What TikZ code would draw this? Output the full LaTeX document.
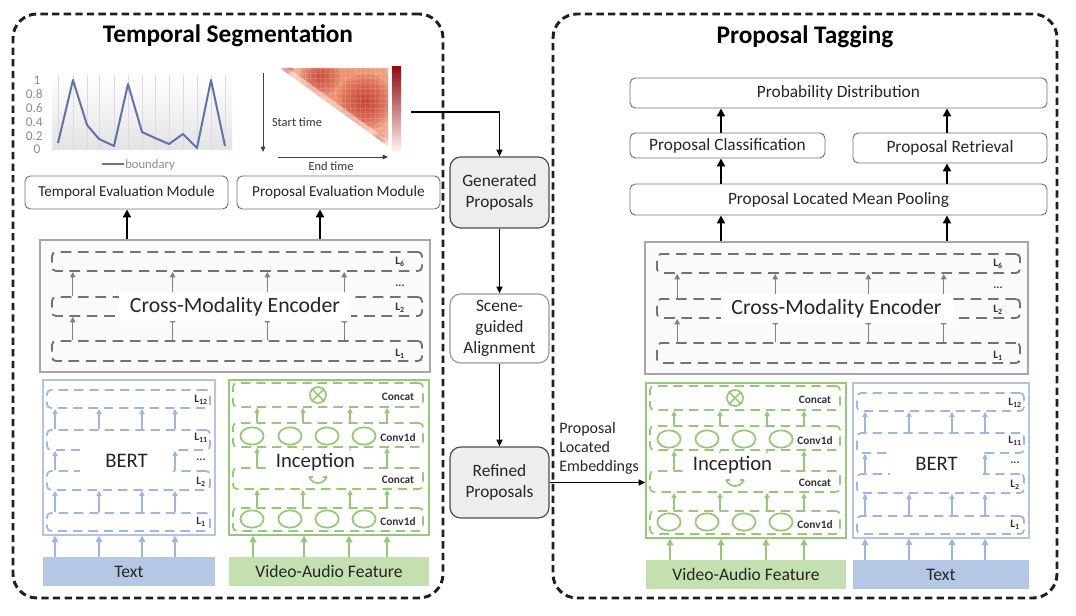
\documentclass[tikz,border=0pt]{standalone}
\usepackage{fontspec}
\setmainfont{Carlito}
\usetikzlibrary{arrows.meta,fit,calc}
\definecolor{bluel}{RGB}{160,182,222}
\definecolor{bluefill}{RGB}{182,199,230}
\definecolor{greenl}{RGB}{150,200,120}
\definecolor{greenfill}{RGB}{196,224,176}
\definecolor{chartblue}{RGB}{95,115,172}
\definecolor{hmbase}{RGB}{250,210,180}
\definecolor{hmmid}{RGB}{232,105,70}
\definecolor{hmdark}{RGB}{180,25,20}
\definecolor{cbtop}{RGB}{150,10,20}
\definecolor{cbmid}{RGB}{238,110,75}
\definecolor{cbbot}{RGB}{255,246,238}
\definecolor{txt}{RGB}{38,38,38}

% box node: style, name, x1, y1, x2, y2, text
\newcommand\boxnode[7]{%
 \node[#1, minimum width={((#5)-(#3))*0.75pt}, minimum height={((#6)-(#4))*0.75pt}] (#2) at ({((#3)+(#5))/2},{((#4)+(#6))/2}) {#7};}

\newcommand\mkenc[4]{%
 \node[encframe, fit={(#2,#3)(#2+#4,#3+132)}] (#1f) {};
 \node[encrow, fit={(#2+12,#3+12)(#2+#4-8,#3+31)}] (#1r3) {};
 \node[encrow, fit={(#2+12,#3+57)(#2+#4-8,#3+76)}] (#1r2) {};
 \node[encrow, fit={(#2+12,#3+101)(#2+#4-8,#3+121)}] (#1r1) {};
 \foreach \f in {0.084,0.34,0.583,0.78}{
  \coordinate (#1x) at (#2+#4*\f,0);
  \draw[garr] (#1r1.north -| #1x) -- (#1r2.south -| #1x);
  \draw[garr] (#1r2.north -| #1x) -- (#1r3.south -| #1x);
 }
 \node[cover, minimum width=174pt, minimum height=22pt, font=\fontsize{16.3}{18}\selectfont] (#1n) at (#2+#4/2,#3+66.5) {Cross-Modality Encoder};
 \node[lbl] at (#2+#4-30,#3+22) {L\textsubscript{6}};
 \node[lbl] at (#2+#4-30,#3+46) {...};
 \node[lbl] at (#2+#4-30,#3+68) {L\textsubscript{2}};
 \node[lbl] at (#2+#4-30,#3+114) {L\textsubscript{1}};
}

\newcommand\mkbert[4]{%
 \node[bframe, fit={(#2,#3)(#2+#4,#3+155)}] (#1f) {};
 \node[brow, fit={(#2+4,#3+10)(#2+#4-5,#3+28)}] (#1r4) {};
 \node[brow, fit={(#2+4,#3+50)(#2+#4-5,#3+70)}] (#1r3) {};
 \node[brow, fit={(#2+4,#3+91)(#2+#4-5,#3+110)}] (#1r2) {};
 \node[brow, fit={(#2+4,#3+133)(#2+#4-5,#3+151)}] (#1r1) {};
 \boxnode{bbox}{#1t}{#2}{#3+177}{#2+#4}{#3+206}{Text}
 \foreach \d in {12,56,99,132}{
  \coordinate (#1x) at (#2+\d,0);
  \draw[bbarr] (#1t.north -| #1x) -- (#1f.south -| #1x);
  \draw[barr] (#1r1.north -| #1x) -- (#1r2.south -| #1x);
  \draw[barr] (#1r2.north -| #1x) -- (#1r3.south -| #1x);
  \draw[barr] (#1r3.north -| #1x) -- (#1r4.south -| #1x);
 }
 \boxnode{cover, font=\fontsize{15.5}{17}\selectfont}{#1n}{#2+37}{#3+65}{#2+130}{#3+97}{BERT}
 \node[lbl] at (#2+#4-14,#3+20) {L\textsubscript{12}};
 \node[lbl] at (#2+#4-14,#3+58) {L\textsubscript{11}};
 \node[lbl] at (#2+#4-14,#3+80) {...};
 \node[lbl] at (#2+#4-14,#3+102) {L\textsubscript{2}};
 \node[lbl] at (#2+#4-14,#3+142) {L\textsubscript{1}};
}

\newcommand\mkincep[3]{%
 \node[gframe, fit={(#2,#3)(#2+200,#3+155)}] (#1f) {};
 \node[grnrow, fit={(#2+4,#3+3)(#2+194,#3+27)}] (#1r4) {};
 \node[grnrow, fit={(#2+4,#3+43)(#2+194,#3+67)}] (#1r3) {};
 \node[grnrow, fit={(#2+4,#3+88)(#2+194,#3+109)}] (#1r2) {};
 \node[grnrow, fit={(#2+4,#3+128)(#2+194,#3+151)}] (#1r1) {};
 \boxnode{gbox}{#1t}{#2}{#3+177}{#2+200}{#3+206}{Video-Audio Feature}
 \foreach \d/\e in {28/24,74/75,121/120,158/158}{
  \coordinate (#1x) at (#2+\d,0);
  \coordinate (#1y) at (#2+\e,0);
  \draw[ggarr] (#1t.north -| #1y) -- (#1f.south -| #1y);
  \draw[grarr] (#1r1.north -| #1x) -- (#1r2.south -| #1x);
  \draw[grarr] (#1r2.north -| #1x) -- (#1r3.south -| #1x);
  \draw[grarr] (#1r3.north -| #1x) -- (#1r4.south -| #1x);
 }
 \foreach \d in {23,61,98,135}{
  \draw[gline, fill=white] (#2+\d,#3+56) ellipse [x radius=8.7pt, y radius=6.5pt];
  \draw[gline, fill=white] (#2+\d,#3+139) ellipse [x radius=8.7pt, y radius=6.5pt];
 }
 \node[draw=greenl, line width=1.3pt, circle, minimum size=12pt, inner sep=0pt, fill=white] (#1o) at (#2+89,#3+15) {};
 \draw[gline] (#1o.north west) -- (#1o.south east) (#1o.north east) -- (#1o.south west);
 \draw[gline] (#2+80,#3+97) .. controls (#2+84,#3+105) and (#2+94,#3+105) .. (#2+98,#3+97);
 \draw[gline] (#2+80,#3+97) -- (#2+84,#3+97) (#2+98,#3+97) -- (#2+94,#3+97);
 \boxnode{cover, font=\fontsize{15.5}{17}\selectfont}{#1n}{#2+39}{#3+70}{#2+134}{#3+95}{Inception}
 \node[lbl] at (#2+169,#3+17) {Concat};
 \node[lbl] at (#2+169,#3+58) {Conv1d};
 \node[lbl] at (#2+169,#3+100) {Concat};
 \node[lbl] at (#2+169,#3+142) {Conv1d};
}

\begin{document}
\begin{tikzpicture}[x=0.75pt,y=-0.75pt,
 bigframe/.style={draw=black!88, line width=2.2pt, dash pattern=on 5.5pt off 3.2pt, rounded corners=18pt, inner sep=0pt},
 ttl/.style={font=\bfseries\fontsize{19}{21}\selectfont, text=black},
 mod/.style={draw=black!55, line width=0.7pt, rounded corners=4pt, fill=white, inner sep=0pt, font=\fontsize{11.4}{13}\selectfont, text=txt},
 rmod/.style={mod, font=\fontsize{13}{15}\selectfont},
 mid/.style={draw=black!70, line width=0.9pt, rounded corners=8pt, fill=black!7, inner sep=0pt, align=center, font=\fontsize{13}{15.5}\selectfont, text=txt},
 bigarr/.style={line width=1.8pt, -{Triangle[length=6pt,width=6pt]}},
 arr/.style={line width=1pt, -{Triangle[length=5pt,width=4.5pt]}},
 encframe/.style={draw=black!35, line width=1pt, fill=black!2, inner sep=0pt},
 encrow/.style={draw=black!55, line width=1.4pt, dash pattern=on 8pt off 5pt, rounded corners=3pt, inner sep=0pt},
 garr/.style={draw=black!50, line width=1pt, -{Triangle[length=4pt,width=4pt]}},
 bframe/.style={draw=bluel!80, line width=0.8pt, inner sep=0pt, fill=white},
 brow/.style={draw=bluel, line width=1.3pt, dash pattern=on 7pt off 4.5pt, rounded corners=3pt, inner sep=0pt},
 barr/.style={draw=bluel, line width=1.2pt, -{Triangle[length=4pt,width=4pt]}},
 bbarr/.style={draw=bluel, line width=1.6pt, -{Triangle[length=5pt,width=5pt]}},
 bbox/.style={fill=bluefill, inner sep=0pt, font=\fontsize{13.2}{15}\selectfont, text=txt},
 gframe/.style={draw=greenl, line width=1pt, inner sep=0pt, fill=white},
 grnrow/.style={draw=greenl, line width=1.3pt, dash pattern=on 7pt off 4.5pt, rounded corners=3pt, inner sep=0pt},
 grarr/.style={draw=greenl, line width=1.2pt, -{Triangle[length=4pt,width=4pt]}},
 ggarr/.style={draw=greenl, line width=1.6pt, -{Triangle[length=5pt,width=5pt]}},
 gline/.style={draw=greenl, line width=1.3pt},
 gbox/.style={fill=greenfill, inner sep=0pt, font=\fontsize{13.2}{15}\selectfont, text=txt},
 cover/.style={fill=white, inner sep=0pt, text=txt},
 lbl/.style={font=\bfseries\fontsize{8.5}{9}\selectfont, text=black!80, inner sep=0pt},
 axl/.style={font=\fontsize{10}{11}\selectfont, text=black!45, inner sep=0pt},
 hml/.style={font=\fontsize{9.3}{10}\selectfont, text=black!80, inner sep=0pt}
]
\useasboundingbox (0,0) rectangle (1076,616);

% ===== panels
\node[bigframe, fit={(13,14)(443,598)}] (lpanel) {};
\node[bigframe, fit={(553,14)(1057,598)}] (rpanel) {};
\node[ttl] (ltitle) at (228,36) {Temporal Segmentation};
\node[ttl] (rtitle) at (805,37) {Proposal Tagging};

% ===== boundary chart
\shade[top color=white, middle color=black!3, bottom color=black!11] (52,75) rectangle (232,150);
\foreach \x in {58,73,87,99,114,128,142,155,169,183,197,211,225}
  \draw[black!14, line width=0.4pt] (\x,75) -- (\x,150);
\draw[chartblue, line width=1.5pt, line join=round]
  (58,143) -- (73,80) -- (87,125) -- (99,139) -- (114,146) -- (128,84) -- (142,132)
  -- (155,138) -- (169,144) -- (183,134) -- (197,148) -- (211,80) -- (225,146);
\node[axl] at (37,80) {1};
\node[axl, anchor=east] at (43,94) {0.8};
\node[axl, anchor=east] at (43,108) {0.6};
\node[axl, anchor=east] at (43,122) {0.4};
\node[axl, anchor=east] at (43,136) {0.2};
\node[axl] at (37,149) {0};
\draw[chartblue, line width=1.5pt] (102,164) -- (124,164);
\node[axl, anchor=west, font=\fontsize{9.5}{11}\selectfont] at (125,165) {boundary};

% ===== heat map
\begin{scope}
\clip (280,68) -- (388,68) -- (388,146) -- cycle;
\fill[hmbase] (280,68) rectangle (388,146);
\foreach \r in {8,16,...,64} \fill[hmmid, opacity=0.12] (348,92) circle [radius=\r pt];
\foreach \r in {3,6,...,15} \fill[hmdark, opacity=0.14] (320,76) circle [radius=\r pt];
\foreach \r in {3,6,...,21} \fill[hmdark, opacity=0.12] (366,102) circle [radius=\r pt];
\foreach \r in {1.5,3,4.5} \fill[hmdark, opacity=0.35] (287,69) circle [radius=\r pt];
\foreach \r in {1.5,3,4.5,6} \fill[hmdark, opacity=0.3] (377,141) circle [radius=\r pt];
\draw[white, opacity=0.45, line width=7pt] (280,68) -- (388,146);
\foreach \t in {0,5,...,110} {
  \draw[white, opacity=0.12, line width=0.5pt] (280+\t,68) -- (280+\t,146);
  \draw[white, opacity=0.12, line width=0.5pt] (280,68+\t) -- (388,68+\t);
}
\end{scope}
\shade[top color=cbtop, middle color=cbmid, bottom color=cbbot] (392,67) rectangle (401,152);
\draw[-{Triangle[length=4pt,width=3.5pt]}, line width=0.6pt, black!75] (263,73) -- (263,152);
\draw[-{Triangle[length=4pt,width=3.5pt]}, line width=0.6pt, black!75] (278,157) -- (388,157);
\node[hml] at (297,122) {Start time};
\node[hml] at (331,166) {End time};
\coordinate (hm) at (411,112);

% ===== left modules
\boxnode{mod}{tem}{25}{176}{228}{209}{Temporal Evaluation Module}
\boxnode{mod}{pem}{237}{176}{440}{209}{Proposal Evaluation Module}

% ===== encoders, BERT, Inception
\mkenc{eL}{40}{240}{390}
\mkenc{eR}{645}{242}{383}
\mkbert{bL}{43}{380}{172}
\mkincep{iL}{229}{380}
\mkincep{iR}{646}{383}
\mkbert{bR}{853}{383}{176}

\coordinate (a1) at (127,0);
\coordinate (a2) at (320,0);
\draw[bigarr] (eLf.north -| a1) -- (tem.south -| a1);
\draw[bigarr] (eLf.north -| a2) -- (pem.south -| a2);

% ===== right modules
\boxnode{rmod}{prob}{630}{78}{1047}{108}{Probability Distribution}
\boxnode{rmod}{cls}{630}{133}{825}{158}{Proposal Classification}
\boxnode{rmod}{ret}{853}{133}{1047}{163}{Proposal Retrieval}
\boxnode{rmod}{pool}{630}{184}{1047}{215}{Proposal Located Mean Pooling}
\coordinate (b1) at (721,0);
\coordinate (b2) at (947,0);
\draw[bigarr] (eRf.north -| b1) -- (pool.south -| b1);
\draw[bigarr] (eRf.north -| b2) -- (pool.south -| b2);
\draw[bigarr] (pool.north -| b1) -- (cls.south -| b1);
\draw[bigarr] (pool.north -| b2) -- (ret.south -| b2);
\draw[bigarr] (cls.north -| b1) -- (prob.south -| b1);
\draw[bigarr] (ret.north -| b2) -- (prob.south -| b2);

% ===== middle column
\boxnode{mid}{gen}{450}{157}{549}{228}{Generated\\Proposals}
\boxnode{mid, fill=white, draw=black!40}{sga}{450}{294}{549}{363}{Scene-\\guided\\Alignment}
\boxnode{mid}{ref}{450}{447}{549}{518}{Refined\\Proposals}
\draw[arr] (hm) -| (gen.north);
\draw[arr] (gen) -- (sga);
\draw[arr] (sga) -- (ref);
\draw[arr] (ref.east) -- (iRf.west |- ref.east);
\node[anchor=north west, align=left, inner sep=0pt, font=\fontsize{12}{14.3}\selectfont, text=txt] (ple) at (559,422) {Proposal\\Located\\Embeddings};
\end{tikzpicture}
\end{document}
